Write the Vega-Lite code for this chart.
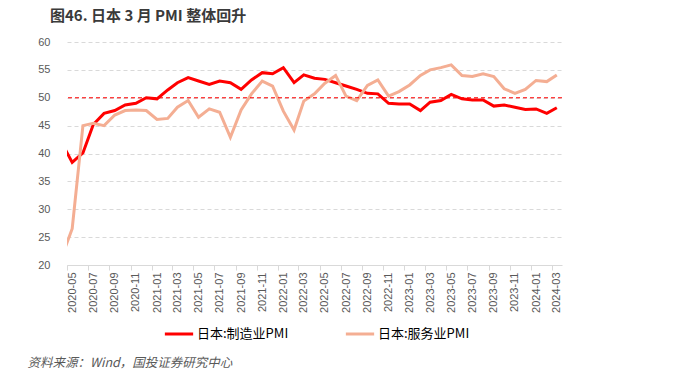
{
  "$schema": "https://vega.github.io/schema/vega-lite/v6.json",
  "autosize": {"type": "none"},
  "width": 495,
  "height": 223,
  "padding": {"left": 67, "top": 42, "right": 125, "bottom": 111},
  "background": "white",
  "title": {"text": "图46. 日本 3 月 PMI 整体回升", "anchor": "start", "dx": 23, "offset": 12, "fontSize": 15, "font": "Noto Sans CJK SC", "fontWeight": "bold", "color": "#3A3A3A"},
  "config": {"view": {"stroke": null}},
  "data": {"values": [
    {"month": "2020-04-01", "mfg": 41.9, "svc": 21.5},
    {"month": "2020-05-01", "mfg": 38.4, "svc": 26.5},
    {"month": "2020-06-01", "mfg": 40.1, "svc": 45.0},
    {"month": "2020-07-01", "mfg": 45.2, "svc": 45.4},
    {"month": "2020-08-01", "mfg": 47.2, "svc": 45.0},
    {"month": "2020-09-01", "mfg": 47.7, "svc": 46.9},
    {"month": "2020-10-01", "mfg": 48.7, "svc": 47.7},
    {"month": "2020-11-01", "mfg": 49.0, "svc": 47.8},
    {"month": "2020-12-01", "mfg": 50.0, "svc": 47.7},
    {"month": "2021-01-01", "mfg": 49.8, "svc": 46.1},
    {"month": "2021-02-01", "mfg": 51.4, "svc": 46.3},
    {"month": "2021-03-01", "mfg": 52.7, "svc": 48.3},
    {"month": "2021-04-01", "mfg": 53.6, "svc": 49.5},
    {"month": "2021-05-01", "mfg": 53.0, "svc": 46.5},
    {"month": "2021-06-01", "mfg": 52.4, "svc": 48.0},
    {"month": "2021-07-01", "mfg": 53.0, "svc": 47.4},
    {"month": "2021-08-01", "mfg": 52.7, "svc": 42.9},
    {"month": "2021-09-01", "mfg": 51.5, "svc": 47.8},
    {"month": "2021-10-01", "mfg": 53.2, "svc": 50.7},
    {"month": "2021-11-01", "mfg": 54.5, "svc": 53.0},
    {"month": "2021-12-01", "mfg": 54.3, "svc": 52.1},
    {"month": "2022-01-01", "mfg": 55.4, "svc": 47.6},
    {"month": "2022-02-01", "mfg": 52.7, "svc": 44.2},
    {"month": "2022-03-01", "mfg": 54.1, "svc": 49.4},
    {"month": "2022-04-01", "mfg": 53.5, "svc": 50.7},
    {"month": "2022-05-01", "mfg": 53.3, "svc": 52.6},
    {"month": "2022-06-01", "mfg": 52.7, "svc": 54.0},
    {"month": "2022-07-01", "mfg": 52.1, "svc": 50.3},
    {"month": "2022-08-01", "mfg": 51.5, "svc": 49.5},
    {"month": "2022-09-01", "mfg": 50.8, "svc": 52.2},
    {"month": "2022-10-01", "mfg": 50.7, "svc": 53.2},
    {"month": "2022-11-01", "mfg": 49.0, "svc": 50.3},
    {"month": "2022-12-01", "mfg": 48.9, "svc": 51.1},
    {"month": "2023-01-01", "mfg": 48.9, "svc": 52.3},
    {"month": "2023-02-01", "mfg": 47.7, "svc": 54.0},
    {"month": "2023-03-01", "mfg": 49.2, "svc": 55.0},
    {"month": "2023-04-01", "mfg": 49.5, "svc": 55.4},
    {"month": "2023-05-01", "mfg": 50.6, "svc": 55.9},
    {"month": "2023-06-01", "mfg": 49.8, "svc": 54.0},
    {"month": "2023-07-01", "mfg": 49.6, "svc": 53.8},
    {"month": "2023-08-01", "mfg": 49.6, "svc": 54.3},
    {"month": "2023-09-01", "mfg": 48.5, "svc": 53.8},
    {"month": "2023-10-01", "mfg": 48.7, "svc": 51.6},
    {"month": "2023-11-01", "mfg": 48.3, "svc": 50.8},
    {"month": "2023-12-01", "mfg": 47.9, "svc": 51.5},
    {"month": "2024-01-01", "mfg": 48.0, "svc": 53.1},
    {"month": "2024-02-01", "mfg": 47.2, "svc": 52.9},
    {"month": "2024-03-01", "mfg": 48.2, "svc": 54.1}
  ]},
  "transform": [
    {"fold": ["mfg", "svc"], "as": ["key", "value"]},
    {"lookup": "key", "from": {"data": {"values": [{"key": "mfg", "series": "日本:制造业PMI"}, {"key": "svc", "series": "日本:服务业PMI"}]}, "key": "key", "fields": ["series"]}}
  ],
  "encoding": {
    "x": {
      "field": "month", "type": "temporal",
      "scale": {"type": "utc", "domain": [{"year": 2020, "month": 4, "date": 16, "utc": true}, {"year": 2024, "month": 3, "date": 16, "utc": true}]},
      "axis": {
        "format": "%Y-%m",
        "tickCount": {"interval": "month", "step": 2},
        "labelAngle": -90, "labelAlign": "right", "labelBaseline": "middle",
        "labelOverlap": false, "labelBound": false, "labelFlush": false,
        "labelFontSize": 11, "labelColor": "#595959", "labelFont": "Liberation Sans",
        "tickOffset": -5.3, "labelOffset": 5.3,
        "tickSize": 5, "tickColor": "#D9D9D9", "domainColor": "#D9D9D9", "labelPadding": 2,
        "grid": false,
        "title": "资料来源：Wind，国投证券研究中心",
        "titleX": -40, "titleY": 97, "titleAngle": 0, "titleAlign": "left", "titleAnchor": "start", "titleBaseline": "middle",
        "titleFont": "Noto Sans CJK SC", "titleFontSize": 12.5, "titleFontStyle": "italic", "titleFontWeight": "normal", "titleColor": "#595959"
      }
    },
    "y": {
      "field": "value", "type": "quantitative",
      "scale": {"domain": [20, 60], "nice": false, "zero": false},
      "axis": {
        "values": [20, 25, 30, 35, 40, 45, 50, 55, 60],
        "title": null, "domain": false, "ticks": false,
        "labelPadding": 17, "labelFontSize": 11, "labelColor": "#595959", "labelFont": "Liberation Sans",
        "grid": true, "gridColor": "#D9D9D9", "gridDash": [4, 3], "gridWidth": 1
      }
    }
  },
  "layer": [
    {
      "mark": {"type": "line", "strokeWidth": 3, "clip": true},
      "encoding": {
        "color": {
          "field": "series", "type": "nominal",
          "scale": {"domain": ["日本:制造业PMI", "日本:服务业PMI"], "range": ["#FF0000", "#F4AE93"]},
          "legend": {
            "orient": "none", "legendX": 96, "legendY": 276, "direction": "horizontal", "title": null,
            "symbolType": "stroke", "symbolSize": 800, "symbolStrokeWidth": 3,
            "labelFontSize": 13, "labelFont": "Noto Sans CJK SC", "labelColor": "#000000",
            "columnPadding": 50, "labelOffset": 2
          }
        }
      }
    },
    {
      "data": {"values": [{"level": 50}]},
      "mark": {"type": "rule", "color": "#FF0000", "strokeWidth": 1, "strokeDash": [4, 3]},
      "encoding": {"y": {"field": "level", "type": "quantitative"}, "x": null}
    }
  ]
}
